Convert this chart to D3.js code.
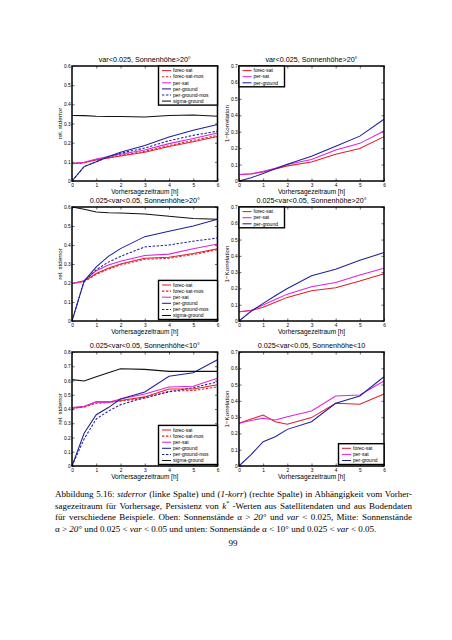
<!DOCTYPE html>
<html>
<head>
<meta charset="utf-8">
<script src="https://cdn.jsdelivr.net/npm/d3@7"></script>
<style>
  html, body { margin: 0; padding: 0; background: #fff; }
  svg { display: block; }
</style>
</head>
<body>
<svg id="chart" width="452" height="640"></svg>
<script>
// ---------- data ----------
const hours = [0, 0.5, 1, 1.5, 2, 3, 4, 5, 6];
const xTicks = [0, 1, 2, 3, 4, 5, 6];
const xLabel = "Vorhersagezeitraum [h]";
const yLabelLeft = "rel. stderror";
const yLabelRight = "1\u2212Korrelation";
const seriesNames = ["forec-sat", "forec-sat-mos", "per-sat", "per-ground", "per-ground-mos", "sigma-ground"];
const seriesColors = ["#e0202c", "#e0202c", "#e024d8", "#20209c", "#20209c", "#111111"];
const seriesDashed = [false, true, false, false, true, false];

const titles = [
  "var<0.025, Sonnenh\u00f6he>20\u00b0",
  "var<0.025, Sonnenh\u00f6he>20\u00b0",
  "0.025<var<0.05,  Sonnenh\u00f6he>20\u00b0",
  "0.025<var<0.05,  Sonnenh\u00f6he>20\u00b0",
  "0.025<var<0.05, Sonnenh\u00f6he<10\u00b0",
  "0.025<var<0.05, Sonnenh\u00f6he<10"
];
const yMaxes = [0.6, 0.7, 0.6, 0.7, 0.8, 0.7];

// top row: var<0.025, alpha>20
const topSdForecSat     = [0.090, 0.095, 0.110, 0.120, 0.130, 0.150, 0.180, 0.205, 0.232];
const topSdForecSatMos  = [0.090, 0.095, 0.112, 0.122, 0.133, 0.155, 0.185, 0.212, 0.238];
const topSdPerSat       = [0.092, 0.098, 0.115, 0.128, 0.140, 0.162, 0.195, 0.222, 0.250];
const topSdPerGround    = [0.000, 0.075, 0.100, 0.128, 0.150, 0.185, 0.230, 0.265, 0.295];
const topSdPerGroundMos = [0.000, 0.075, 0.100, 0.125, 0.145, 0.172, 0.210, 0.238, 0.260];
const topSdSigmaGround  = [0.342, 0.341, 0.338, 0.337, 0.336, 0.334, 0.342, 0.344, 0.338];

const topKorrForecSat  = [0.039, 0.042, 0.055, 0.073, 0.092, 0.116, 0.163, 0.198, 0.270];
const topKorrPerSat    = [0.039, 0.044, 0.059, 0.078, 0.100, 0.131, 0.188, 0.229, 0.304];
const topKorrPerGround = [0.000, 0.020, 0.045, 0.075, 0.102, 0.151, 0.212, 0.273, 0.376];

// middle row: 0.025<var<0.05, alpha>20
const midSdForecSat     = [0.197, 0.210, 0.250, 0.278, 0.300, 0.330, 0.335, 0.355, 0.380];
const midSdForecSatMos  = [0.197, 0.207, 0.245, 0.273, 0.295, 0.325, 0.330, 0.350, 0.375];
const midSdPerSat       = [0.197, 0.212, 0.265, 0.295, 0.315, 0.345, 0.352, 0.380, 0.405];
const midSdPerGround    = [0.000, 0.210, 0.285, 0.340, 0.381, 0.444, 0.472, 0.500, 0.535];
const midSdPerGroundMos = [0.000, 0.210, 0.270, 0.310, 0.340, 0.390, 0.400, 0.420, 0.437];
const midSdSigmaGround  = [0.600, 0.588, 0.574, 0.570, 0.568, 0.563, 0.551, 0.539, 0.535];

const midKorrForecSat  = [0.057, 0.065, 0.084, 0.115, 0.145, 0.186, 0.204, 0.245, 0.290];
const midKorrPerSat    = [0.057, 0.065, 0.098, 0.132, 0.165, 0.210, 0.237, 0.282, 0.324];
const midKorrPerGround = [0.000, 0.060, 0.108, 0.155, 0.200, 0.278, 0.318, 0.373, 0.420];

// bottom row: 0.025<var<0.05, alpha<10
const botSdForecSat     = [0.405, 0.415, 0.450, 0.450, 0.460, 0.485, 0.540, 0.540, 0.570];
const botSdForecSatMos  = [0.405, 0.413, 0.440, 0.445, 0.455, 0.475, 0.525, 0.530, 0.555];
const botSdPerSat       = [0.410, 0.420, 0.450, 0.445, 0.470, 0.505, 0.555, 0.560, 0.615];
const botSdPerGround    = [0.000, 0.230, 0.360, 0.410, 0.470, 0.520, 0.630, 0.655, 0.745];
const botSdPerGroundMos = [0.000, 0.190, 0.330, 0.385, 0.430, 0.480, 0.520, 0.550, 0.590];
const botSdSigmaGround  = [0.606, 0.596, 0.627, 0.655, 0.683, 0.678, 0.664, 0.664, 0.664];

const botKorrForecSat  = [0.262, 0.288, 0.313, 0.272, 0.256, 0.297, 0.385, 0.379, 0.442];
const botKorrPerSat    = [0.262, 0.280, 0.293, 0.282, 0.303, 0.338, 0.430, 0.436, 0.522];
const botKorrPerGround = [0.000, 0.070, 0.149, 0.180, 0.225, 0.272, 0.385, 0.430, 0.548];

const captionLines = [
  [["Abbildung 5.16: ", 0], ["stderror", 1], [" (linke Spalte) und (", 0], ["1-korr", 1], [") (rechte Spalte) in Abh\u00e4ngigkeit vom Vorher-", 0]],
  [["sagezeitraum f\u00fcr Vorhersage, Persistenz von ", 0], ["k", 1], ["*", 2], [" -Werten aus Satellitendaten und aus Bodendaten", 0]],
  [["f\u00fcr verschiedene Beispiele. Oben: Sonnenst\u00e4nde \u03b1 > ", 0], ["20\u00b0", 1], [" und ", 0], ["var", 1], [" < 0.025, Mitte: Sonnenst\u00e4nde", 0]],
  [["\u03b1 > ", 0], ["20\u00b0", 1], [" und 0.025 < ", 0], ["var", 1], [" < 0.05 und unten: Sonnenst\u00e4nde \u03b1 < 10\u00b0 und 0.025 < ", 0], ["var", 1], [" < 0.05.", 0]]
];
const pageNumber = "99";

// ---------- layout ----------
const svg = d3.select("#chart");
const colX = [[72, 217.5], [239, 384]];
const rowY = [[66, 181], [207, 321], [352, 466]];
const sans = "'Liberation Sans', Arial, Helvetica, sans-serif";
const serif = "'Liberation Serif', 'Times New Roman', serif";

const panels = [
  {r: 0, c: 0, idx: [0,1,2,3,4,5], data: [topSdForecSat, topSdForecSatMos, topSdPerSat, topSdPerGround, topSdPerGroundMos, topSdSigmaGround], legend: "tr"},
  {r: 0, c: 1, idx: [0,2,3], data: [topKorrForecSat, topKorrPerSat, topKorrPerGround], legend: "tl"},
  {r: 1, c: 0, idx: [0,1,2,3,4,5], data: [midSdForecSat, midSdForecSatMos, midSdPerSat, midSdPerGround, midSdPerGroundMos, midSdSigmaGround], legend: "br"},
  {r: 1, c: 1, idx: [0,2,3], data: [midKorrForecSat, midKorrPerSat, midKorrPerGround], legend: "tl"},
  {r: 2, c: 0, idx: [0,1,2,3,4,5], data: [botSdForecSat, botSdForecSatMos, botSdPerSat, botSdPerGround, botSdPerGroundMos, botSdSigmaGround], legend: "br"},
  {r: 2, c: 1, idx: [0,2,3], data: [botKorrForecSat, botKorrPerSat, botKorrPerGround], legend: "br"}
];

panels.forEach((p, pi) => {
  const [x0, x1] = colX[p.c];
  const [y0, y1] = rowY[p.r];
  const ymax = yMaxes[pi];
  const x = d3.scaleLinear().domain([0, 6]).range([x0, x1]);
  const y = d3.scaleLinear().domain([0, ymax]).range([y1, y0]);
  const yTicks = d3.range(0, Math.round(ymax * 10) + 1).map(i => i / 10);
  const g = svg.append("g");

  // axes (ticks inward, mirrored)
  const fmtY = v => v === 0 ? "0" : d3.format(".1f")(v);
  const styleAxis = sel => {
    sel.select(".domain").remove();
    sel.selectAll("line").attr("stroke", "#000").attr("stroke-width", 0.6);
    sel.selectAll("text").attr("font-family", sans).attr("font-size", 4.8).attr("fill", "#000");
  };
  g.append("g").attr("transform", `translate(0,${y1})`)
    .call(d3.axisBottom(x).tickValues(xTicks).tickSizeInner(-2.5).tickSizeOuter(0).tickPadding(2.4).tickFormat(d3.format("d")))
    .call(styleAxis);
  g.append("g").attr("transform", `translate(0,${y0})`)
    .call(d3.axisTop(x).tickValues(xTicks).tickSizeInner(-2.5).tickSizeOuter(0).tickFormat(""))
    .call(styleAxis);
  g.append("g").attr("transform", `translate(${x0},0)`)
    .call(d3.axisLeft(y).tickValues(yTicks).tickSizeInner(-2.5).tickSizeOuter(0).tickPadding(1.4).tickFormat(fmtY))
    .call(styleAxis);
  g.append("g").attr("transform", `translate(${x1},0)`)
    .call(d3.axisRight(y).tickValues(yTicks).tickSizeInner(-2.5).tickSizeOuter(0).tickFormat(""))
    .call(styleAxis);

  // lines
  const line = d3.line().x((d, i) => x(hours[i])).y(d => y(d));
  p.data.forEach((vals, k) => {
    const si = p.idx[k];
    g.append("path").datum(vals)
      .attr("d", line)
      .attr("fill", "none")
      .attr("stroke", seriesColors[si])
      .attr("stroke-width", 1.05)
      .attr("stroke-dasharray", seriesDashed[si] ? "2.4,1.6" : null);
  });

  // box
  g.append("rect").attr("x", x0).attr("y", y0).attr("width", x1 - x0).attr("height", y1 - y0)
    .attr("fill", "none").attr("stroke", "#000").attr("stroke-width", 1.5);

  // title & labels
  g.append("text").attr("x", (x0 + x1) / 2).attr("y", y0 - 4.5)
    .attr("text-anchor", "middle").attr("font-family", sans).attr("font-size", 7.2).text(titles[pi]);
  g.append("text").attr("x", (x0 + x1) / 2).attr("y", y1 + 12.5)
    .attr("text-anchor", "middle").attr("font-family", sans).attr("font-size", 6.5).text(xLabel);
  const ylx = x0 - 10.5;
  g.append("text").attr("transform", `translate(${ylx},${(y0 + y1) / 2}) rotate(-90)`)
    .attr("text-anchor", "middle").attr("font-family", sans).attr("font-size", 6.2)
    .text(p.c === 0 ? yLabelLeft : yLabelRight);

  // legend
  const n = p.idx.length;
  const rowH = 6.1;
  const lw = p.c === 0 ? 59 : 45.5;
  const lh = n * rowH + 2.5;
  let lx, ly;
  if (p.legend === "tr") { lx = x1 - lw; ly = y0; }
  else if (p.legend === "tl") { lx = x0; ly = y0; }
  else { lx = x1 - lw; ly = y1 - lh - 1.5; }
  const lg = g.append("g");
  lg.append("rect").attr("x", lx).attr("y", ly).attr("width", lw).attr("height", lh)
    .attr("fill", "#fff").attr("stroke", "#000").attr("stroke-width", 1.4);
  p.idx.forEach((si, k) => {
    const cy = ly + 4.6 + k * rowH;
    lg.append("line").attr("x1", lx + 3.5).attr("x2", lx + 12.5).attr("y1", cy).attr("y2", cy)
      .attr("stroke", seriesColors[si]).attr("stroke-width", 1.05)
      .attr("stroke-dasharray", seriesDashed[si] ? "2.4,1.6" : null);
    lg.append("text").attr("x", lx + 14.5).attr("y", cy + 1.7)
      .attr("font-family", sans).attr("font-size", 5).text(seriesNames[si]);
  });
});

// ---------- caption ----------
const capLeft = 55, capRight = 412;
const capBase = [497, 508.5, 520, 531.5];
captionLines.forEach((parts, li) => {
  const t = svg.append("text").attr("x", capLeft).attr("y", capBase[li])
    .attr("font-family", serif).attr("font-size", 9).attr("fill", "#000");
  parts.forEach(([s, st]) => {
    const ts = t.append("tspan").text(s);
    if (st === 1) ts.attr("font-style", "italic");
    if (st === 2) ts.attr("font-size", 6).attr("dy", -3.5);
  });
  // restore baseline after superscript
  t.selectAll("tspan").each(function(d, i, nodes) {
    if (i > 0 && d3.select(nodes[i - 1]).attr("dy") === "-3.5") d3.select(this).attr("dy", 3.5);
  });
  if (li < captionLines.length - 1) {
    const natural = t.node().getComputedTextLength();
    const spaces = parts.map(p => p[0]).join("").split(" ").length - 1;
    if (spaces > 0) t.attr("word-spacing", (capRight - capLeft - natural) / spaces);
  }
});
svg.append("text").attr("x", 233).attr("y", 546).attr("text-anchor", "middle")
  .attr("font-family", serif).attr("font-size", 9).text(pageNumber);
</script>
</body>
</html>
